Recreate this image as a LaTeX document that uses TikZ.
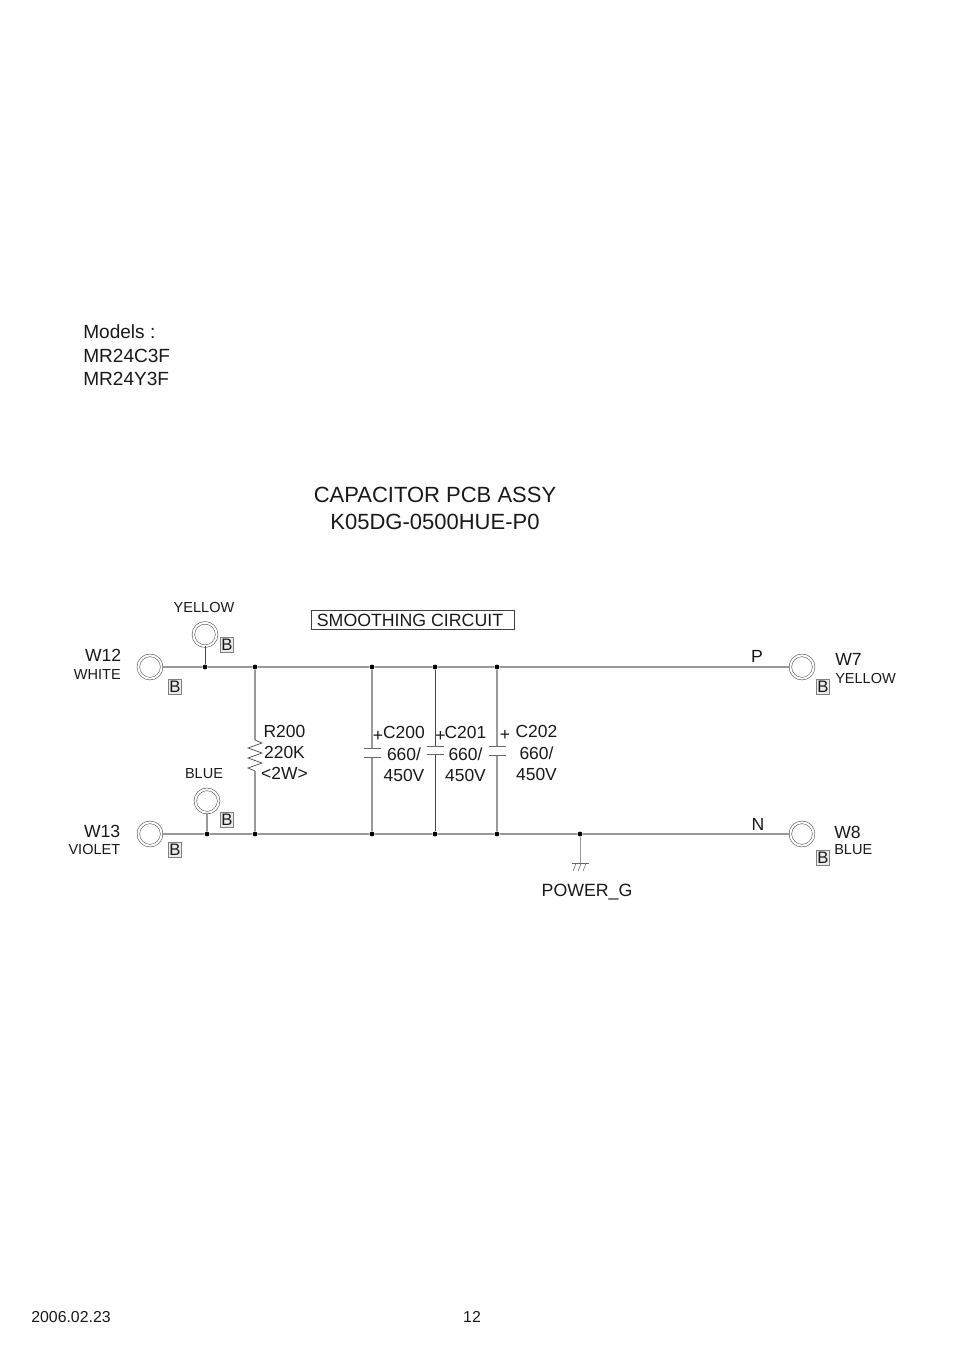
\documentclass[tikz,border=0pt]{standalone}
\usepackage{fontspec}
\setmainfont{Liberation Sans}
\tikzset{
  wire/.style={draw=black!40,line width=0.8pt},
  darkwire/.style={draw=black!72,line width=0.65pt},
  term/.style={circle,draw=black!70,line width=0.4pt,double=white,double distance=1.5pt,minimum size=17.5pt,inner sep=0pt,fill=white},
  dotn/.style={circle,fill=black,inner sep=0pt,minimum size=3.6pt},
  bbox/.style={draw=black!50,fill=black!8,line width=0.5pt,inner sep=0pt,minimum width=9.5pt,minimum height=11pt,font=\fontsize{12.5}{13}\selectfont,text=black!90},
  big/.style={font=\fontsize{16.5}{20}\selectfont,text=black!90,inner sep=0pt},
  mid/.style={font=\fontsize{13.2}{15}\selectfont,text=black!90,inner sep=0pt},
  small/.style={font=\fontsize{10.9}{12}\selectfont,text=black!90,inner sep=0pt},
  plate/.style={draw=black!60,line width=0.5pt},
  val/.style={font=\fontsize{13.1}{15.8}\selectfont,text=black!90,inner sep=0pt,align=center},
}
\begin{document}
\begin{tikzpicture}[x=0.75pt,y=-0.75pt]
\useasboundingbox (0,0) rectangle (954,1351);
% texts
\node[mid,anchor=north west,align=left,font=\fontsize{14.3}{17.6}\selectfont] (models) at (83,324.5) {Models :\\MR24C3F\\MR24Y3F};
\node[big] (t1) at (435,495) {CAPACITOR PCB ASSY};
\node[big] (t2) at (435,522) {K05DG-0500HUE-P0};
\node[mid,draw=black!75,line width=0.5pt,minimum width=152pt,minimum height=14.5pt,anchor=west,inner sep=0pt,font=\fontsize{13.3}{15}\selectfont] (smooth) at (311,620) {\hspace{-4pt}SMOOTHING CIRCUIT};
% terminals
\node[term] (w12) at (150,667) {};
\node[term] (w13) at (150,834) {};
\node[term] (y) at (205,634.5) {};
\node[term] (bl) at (207,801) {};
\node[term] (w7) at (802,667) {};
\node[term] (w8) at (802,834) {};
% junctions
\node[dotn] (jy) at (205,667) {};
\node[dotn] (jr1) at (255,667) {};
\node[dotn] (ja1) at (372,667) {};
\node[dotn] (jb1) at (435,667) {};
\node[dotn] (jc1) at (497,667) {};
\node[dotn] (jbl) at (207,834) {};
\node[dotn] (jr2) at (255,834) {};
\node[dotn] (ja2) at (372,834) {};
\node[dotn] (jb2) at (435,834) {};
\node[dotn] (jc2) at (497,834) {};
\node[dotn] (jg) at (580,834) {};
% buses
\draw[wire] (w12) -- (jy) -- (jr1) -- (ja1) -- (jb1) -- (jc1) -- (w7);
\draw[wire] (w13) -- (jbl) -- (jr2) -- (ja2) -- (jb2) -- (jc2) -- (jg) -- (w8);
\draw[darkwire] (y) -- (jy);
\draw[wire] (bl) -- (jbl);
% resistor
\coordinate (r1) at (255,740);
\coordinate (r2) at (255,771);
\draw[wire] (jr1) -- (r1);
\draw[darkwire,line width=0.5pt,line join=miter] (r1) -- ++(7,3) -- ++(-14,5) -- ++(14,5) -- ++(-14,5) -- ++(14,5) -- ++(-14,5) -- (r2);
\draw[wire] (r2) -- (jr2);
% capacitors
\coordinate (a1) at (372,748); \coordinate (a2) at (372,757);
\coordinate (b1) at (435,746); \coordinate (b2) at (435,754);
\coordinate (c1) at (497,746); \coordinate (c2) at (497,755);
\draw[wire] (ja1) -- (a1); \draw[wire] (a2) -- (ja2);
\draw[darkwire] (jb1) -- (b1); \draw[darkwire] (b2) -- (jb2);
\draw[wire] (jc1) -- (c1); \draw[wire] (c2) -- (jc2);
\draw[plate] (363.5,748) -- (380.5,748) (363.5,757) -- (380.5,757);
\draw[plate] (426.5,746) -- (443.5,746) (426.5,754) -- (443.5,754);
\draw[plate] (488.5,746) -- (505.5,746) (488.5,755) -- (505.5,755);
% ground
\coordinate (g) at (580,863);
\draw[wire,line width=0.55pt] (jg) -- (g);
\draw[plate] (572,863) -- (589,863);
\draw[plate,line width=0.4pt] (576,863.5) -- (573,871) (581,863.5) -- (578,871) (586,863.5) -- (583,871);
% B boxes
\node[bbox] (b-y) at (227,645) {B};
\node[bbox] (b-w12) at (175,687) {B};
\node[bbox] (b-bl) at (227,820) {B};
\node[bbox] (b-w13) at (175,850) {B};
\node[bbox] (b-w7) at (823,687) {B};
\node[bbox] (b-w8) at (823,858) {B};
% labels
\node[small] (ly) at (204,607) {YELLOW};
\node[mid,anchor=east] (l12) at (121.5,655) {W12};
\node[small,anchor=east] (lwh) at (121,674) {WHITE};
\node[small] (lbl) at (204,774) {BLUE};
\node[mid,anchor=east] (l13) at (120.5,831) {W13};
\node[small,anchor=east] (lvi) at (120.5,849.5) {VIOLET};
\node[mid] (lp) at (757,656) {P};
\node[mid] (ln) at (758,824) {N};
\node[mid,anchor=west] (l7) at (835,659.5) {W7};
\node[small,anchor=west] (ly7) at (835,678.5) {YELLOW};
\node[mid,anchor=west] (l8) at (834,832) {W8};
\node[small,anchor=west] (lb8) at (834,849.5) {BLUE};
\node[val] (vr) at (284.5,752.5) {R200\\220K\\<2W>};
\node[mid] (pa) at (378,736) {+};
\node[val] (va) at (404,754) {C200\\660/\\450V};
\node[mid] (pb) at (440.5,736) {+};
\node[val] (vb) at (465.5,754) {C201\\660/\\450V};
\node[mid] (pc) at (505,735) {+};
\node[val] (vc) at (536.5,753) {C202\\660/\\450V};
\node[mid,font=\fontsize{13.3}{15}\selectfont] (pg) at (587,892) {POWER\_G};
\node[small,font=\fontsize{11.9}{13}\selectfont] (date) at (71,1317) {2006.02.23};
\node[small,font=\fontsize{11.9}{13}\selectfont] (page) at (472,1317) {12};
\end{tikzpicture}
\end{document}
